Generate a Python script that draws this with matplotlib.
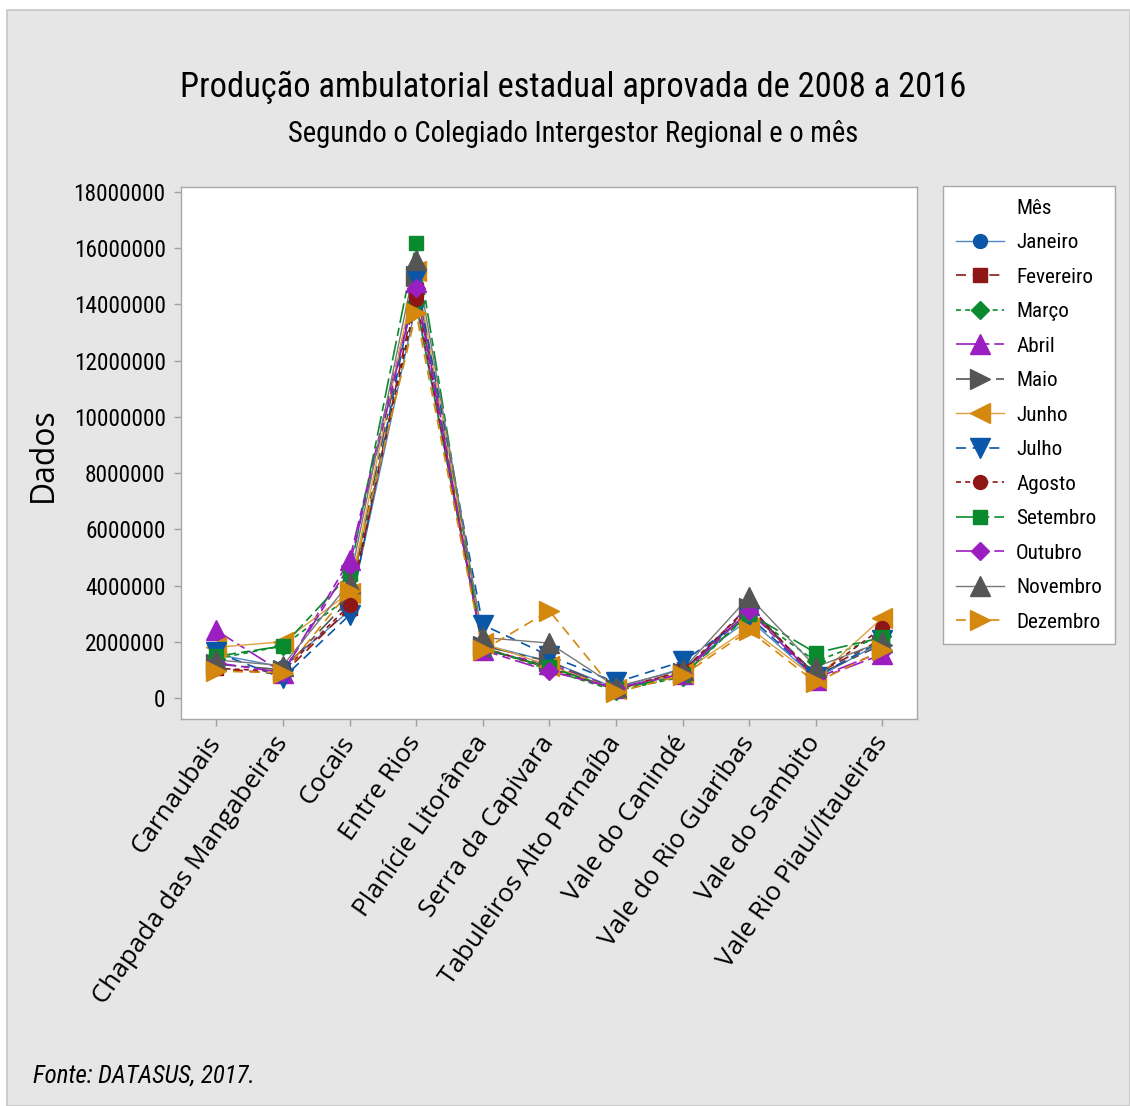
import matplotlib
matplotlib.use("Agg")
import matplotlib.pyplot as plt
from matplotlib import font_manager as fm
from matplotlib.lines import Line2D
from matplotlib.patches import Rectangle
import numpy as np

regioes = ["Carnaubais", "Chapada das Mangabeiras", "Cocais", "Entre Rios",
           "Planície Litorânea", "Serra da Capivara", "Tabuleiros Alto Parnaíba",
           "Vale do Canindé", "Vale do Rio Guaribas", "Vale do Sambito",
           "Vale Rio Piauí/Itaueiras"]

meses = ["Janeiro", "Fevereiro", "Março", "Abril", "Maio", "Junho", "Julho",
         "Agosto", "Setembro", "Outubro", "Novembro", "Dezembro"]

# production per region (millions), one list per month
janeiro   = [1.55, 1.10, 3.10, 14.0, 1.90, 1.30, 0.35, 1.05, 2.80, 0.70, 2.00]
fevereiro = [1.05, 0.85, 3.20, 14.5, 1.75, 1.10, 0.30, 0.95, 3.10, 0.85, 2.10]
marco     = [1.40, 1.85, 3.60, 14.1, 1.80, 1.00, 0.25, 0.75, 3.00, 1.30, 2.20]
abril     = [2.40, 0.90, 4.90, 14.8, 1.70, 1.20, 0.35, 0.85, 3.30, 0.65, 1.55]
maio      = [1.20, 1.00, 3.50, 15.0, 1.85, 1.30, 0.30, 0.90, 3.20, 0.80, 1.90]
junho     = [1.80, 2.00, 3.75, 15.2, 1.95, 1.15, 0.30, 0.90, 2.50, 0.70, 2.85]
julho     = [1.62, 0.70, 2.95, 14.9, 2.60, 1.50, 0.55, 1.30, 2.90, 0.75, 2.05]
agosto    = [1.05, 0.95, 3.30, 14.2, 1.80, 1.05, 0.30, 0.95, 3.25, 0.75, 2.50]
setembro  = [1.48, 1.85, 4.40, 16.2, 1.75, 1.10, 0.30, 0.80, 3.00, 1.60, 2.15]
outubro   = [1.25, 0.90, 4.70, 14.6, 1.70, 0.95, 0.35, 0.85, 3.10, 0.70, 1.65]
novembro  = [1.35, 1.15, 4.10, 15.6, 2.15, 1.95, 0.40, 1.00, 3.60, 1.10, 2.00]
dezembro  = [0.95, 0.90, 3.80, 13.7, 1.70, 3.10, 0.20, 0.80, 2.40, 0.55, 1.70]

series = [janeiro, fevereiro, marco, abril, maio, junho, julho, agosto,
          setembro, outubro, novembro, dezembro]

y_ticks = [0, 2000000, 4000000, 6000000, 8000000, 10000000, 12000000,
           14000000, 16000000, 18000000]

AZUL, VERM, VERDE, ROXO, CINZA, LARANJA = ("#0A56A8", "#8E1616", "#0A8A2E",
                                           "#9A1EC0", "#555555", "#D4880E")
cores = [AZUL, VERM, VERDE, ROXO, CINZA, LARANJA,
         AZUL, VERM, VERDE, ROXO, CINZA, LARANJA]
cores_linha = ["#4F86C6", VERM, VERDE, ROXO, CINZA, "#E0A040",
               AZUL, VERM, VERDE, ROXO, "#777777", LARANJA]
marcadores = ["o", "s", "D", "^", ">", "<", "v", "o", "s", "D", "^", ">"]
tamanhos = [10, 10, 9, 14, 14, 14, 14, 10, 10, 9, 14, 14]
estilos = ["-", (0, (6, 4)), (0, (3, 2.5)), (0, (12, 3, 5, 3)),
           (0, (12, 4, 4, 4)), "-", (0, (6, 4)), (0, (3, 2.5)),
           (0, (12, 3, 5, 3)), (0, (12, 3, 5, 3)), "-", (0, (6, 4))]
larguras = [1.0, 1.2, 1.2, 1.2, 1.2, 1.0, 1.2, 1.2, 1.2, 1.2, 1.0, 1.2]


def fonte_estreita():
    """Pick the narrowest sans face available, falling back to Liberation Sans."""
    entradas = fm.fontManager.ttflist
    nomes = {f.name for f in entradas}
    for nome in ["Liberation Sans Narrow", "Roboto Condensed", "Open Sans Condensed",
                 "Noto Sans Condensed", "DejaVu Sans Condensed"]:
        if nome in nomes:
            return {"family": [nome, "DejaVu Sans"], "stretch": "normal"}
    for f in entradas:
        if str(f.stretch) in ("condensed", "semi-condensed", "extra-condensed") \
                and f.name in ("Noto Sans", "DejaVu Sans", "Open Sans", "Roboto"):
            return {"family": [f.name, "DejaVu Sans"], "stretch": f.stretch}
    return {"family": ["Liberation Sans", "DejaVu Sans"], "stretch": "normal"}


NARROW = fonte_estreita()
REG = {"family": ["Open Sans", "DejaVu Sans"], "stretch": "normal"}

fig = plt.figure(figsize=(11.30, 11.06), dpi=100, facecolor="white")
renderer = fig.canvas.get_renderer()


def tamanho_para(texto, largura_px, fonte, estilo="normal"):
    """Font size (pt) that makes `texto` span `largura_px` pixels."""
    t = fig.text(0, 0, texto, fontsize=20, style=estilo, **fonte)
    w = t.get_window_extent(renderer).width
    t.remove()
    return 20 * largura_px / w


fig.patches.append(Rectangle((7 / 1130, 0), 1 - 7 / 1130, 1 - 10 / 1106,
                             transform=fig.transFigure, facecolor="#E6E6E6",
                             edgecolor="#C6C6C6", linewidth=1.2, zorder=-10))

ax = fig.add_axes([181 / 1130, 1 - 719 / 1106, 736 / 1130, 532 / 1106])
ax.set_facecolor("white")

x = np.arange(len(regioes))
handles = []
for nome, vals, c, cl, m, ms, ls, lw in zip(meses, series, cores, cores_linha,
                                            marcadores, tamanhos, estilos, larguras):
    v = np.array(vals) * 1e6
    ax.plot(x, v, color=cl, linestyle=ls, linewidth=lw, zorder=2)
    ax.plot(x, v, linestyle="none", marker=m, markersize=ms,
            markerfacecolor=c, markeredgecolor=c, zorder=3)
    handles.append(Line2D([], [], color=cl, linestyle=ls, linewidth=lw,
                          marker=m, markersize=ms, markerfacecolor=c,
                          markeredgecolor=c, label=nome))

ax.set_xlim(-0.53, 10.52)
ax.set_ylim(-750000, 18180000)

fs_y = tamanho_para("18000000", 92, NARROW)
ax.set_yticks(y_ticks)
ax.set_yticklabels([str(t) for t in y_ticks], fontsize=fs_y, **NARROW)

fs_x = tamanho_para("Chapada das Mangabeiras", 320, REG)
ax.set_xticks(x)
ax.set_xticklabels(regioes, rotation=55, ha="right", va="center",
                   rotation_mode="anchor", fontsize=fs_x, **REG)
ax.tick_params(axis="both", direction="out", length=5, color="#A0A0A0",
               width=1, pad=6)
ax.tick_params(axis="x", pad=9)
for s in ax.spines.values():
    s.set_color("#A8A8A8")
    s.set_linewidth(1)

fig.text(43 / 1130, 1 - 455 / 1106, "Dados", rotation=90, ha="center",
         va="center", fontsize=tamanho_para("Dados", 94, REG), **REG)

fig.text(573 / 1130, 1 - 87 / 1106,
         "Produção ambulatorial estadual aprovada de 2008 a 2016",
         ha="center", va="center",
         fontsize=tamanho_para("Produção ambulatorial estadual aprovada de 2008 a 2016",
                               785, NARROW), **NARROW)
fig.text(573 / 1130, 1 - 134 / 1106,
         "Segundo o Colegiado Intergestor Regional e o mês",
         ha="center", va="center",
         fontsize=tamanho_para("Segundo o Colegiado Intergestor Regional e o mês",
                               569, NARROW), **NARROW)
fig.text(33 / 1130, 1 - 1076 / 1106, "Fonte: DATASUS, 2017.", ha="left",
         va="center", style="italic",
         fontsize=tamanho_para("Fonte: DATASUS, 2017.", 222, NARROW, "italic"),
         **NARROW)

fs_leg = tamanho_para("Novembro", 86, NARROW)
titulo = Line2D([], [], linestyle="none", label="Mês")
leg_kw = dict(loc="upper left", bbox_to_anchor=(943 / 1130, 1 - 186 / 1106),
              bbox_transform=fig.transFigure, frameon=True, fancybox=False,
              framealpha=1, facecolor="white", edgecolor="#A8A8A8",
              prop={"family": NARROW["family"], "stretch": NARROW["stretch"],
                    "size": fs_leg},
              handlelength=2.3, handletextpad=0.55, borderpad=0.6,
              borderaxespad=0)

# tune row spacing so consecutive entries sit 34.5 px apart
espaco = 0.8
leg = fig.legend(handles=[titulo] + handles, labelspacing=espaco, **leg_kw)
txts = leg.get_texts()
fig.canvas.draw()
passo = (txts[0].get_window_extent(renderer).y0 -
         txts[-1].get_window_extent(renderer).y0) / (len(txts) - 1)
fs_px = fs_leg * 100 / 72
espaco = max(0.05, espaco + (34.5 - passo) / fs_px)
leg.remove()
leg = fig.legend(handles=[titulo] + handles, labelspacing=espaco, **leg_kw)
leg.get_frame().set_linewidth(1)

fig.savefig("out.png", dpi=100, facecolor=fig.get_facecolor())
